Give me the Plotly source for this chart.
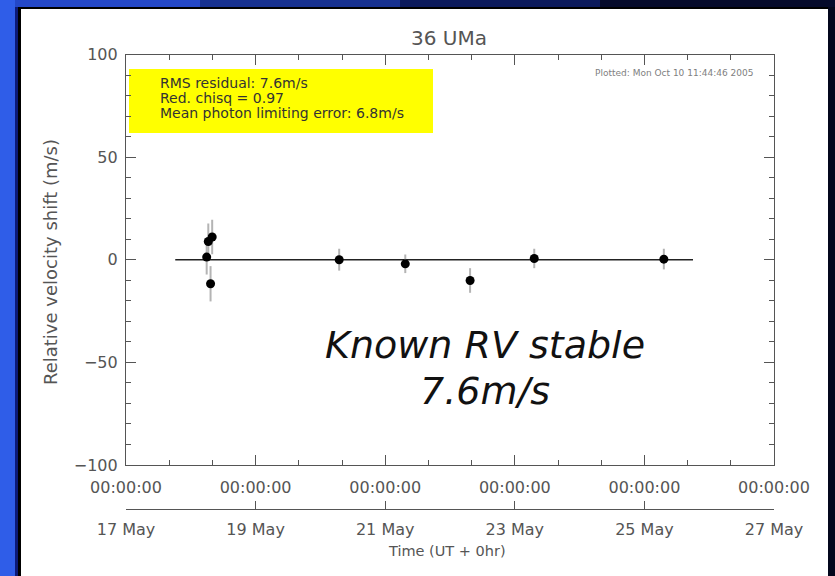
import pandas as pd
import plotly.graph_objects as go

# Observation epochs (fractional day of May 2005, UT)
obs_day = [18.245, 18.27, 18.305, 18.33, 20.29, 21.31, 22.31, 23.30, 25.30]
# Relative radial velocity shift (m/s) and 1-sigma errors
rv = [1.3, 8.9, -11.7, 11.1, 0.0, -2.0, -10.1, 0.6, 0.3]
rv_err = [8.5, 8.8, 8.6, 8.4, 5.3, 4.5, 6.0, 4.7, 5.0]
# Constant-velocity reference model
model_day = [17.76, 25.75]
model_rv = [0.0, 0.0]

title_text = "36 UMa"
y_title = "Relative velocity shift (m/s)"
x_title = "Time (UT + 0hr)"
stats_lines = ["RMS residual: 7.6m/s", "Red. chisq = 0.97", "Mean photon limiting error: 6.8m/s"]
stamp_text = "Plotted: Mon Oct 10 11:44:46 2005"
note_lines = ["Known RV stable", "7.6m/s"]

x_start, x_end = "2005-05-17", "2005-05-27"
y_min, y_max = -100, 100


def to_time(days):
    base = pd.Timestamp("2005-05-01")
    return [base + pd.to_timedelta(d - 1, unit="D") for d in days]


W, H = 835, 576
px = lambda v: v / W
py = lambda v: 1 - v / H

AX = "#555555"
FONT = "DejaVu Sans"

fig = go.Figure()

fig.add_trace(go.Scatter(
    x=to_time(model_day), y=model_rv, mode="lines",
    line=dict(color="#222222", width=1.6), hoverinfo="skip", showlegend=False,
))
fig.add_trace(go.Scatter(
    x=to_time(obs_day), y=rv, mode="markers",
    marker=dict(color="black", size=9),
    error_y=dict(type="data", array=rv_err, color="#b4b4b4", thickness=2, width=0),
    showlegend=False,
))
# second axis row carrying the calendar dates
fig.add_trace(go.Scatter(
    x=to_time([17, 27]), y=[None, None], xaxis="x2", yaxis="y",
    mode="markers", showlegend=False, hoverinfo="skip",
))


def band(x0, x1, y0, y1, color):
    return dict(type="rect", xref="paper", yref="paper",
                x0=px(x0), x1=px(x1), y0=py(y1), y1=py(y0),
                fillcolor=color, line=dict(width=0), layer="below")


# slide background: blue frame around a white panel
shapes = [
    band(0, W, 0, H, "black"),
    band(21, 828, 9, H + 5, "white"),
    # left edge
    band(0, 15, 0, H, "#2f5de8"),
    band(15, 18, 0, H, "#0c1a78"),
    # top edge, fading from blue to black
    band(15, 200, 0, 7, "#2448c8"),
    band(200, 400, 0, 7, "#16308f"),
    band(400, 600, 0, 7, "#0c1a5c"),
    band(600, 835, 0, 7, "#050a2a"),
    # right edge
    band(828, W, 7, H, "#03061c"),
    # statistics box
    band(129, 433, 69, 133, "#ffff00"),
]

annotations = [
    dict(text=stamp_text, xref="paper", yref="paper", x=px(755), y=py(73),
         xanchor="right", yanchor="middle", showarrow=False,
         font=dict(family=FONT, size=9, color="#808080")),
    dict(text=title_text, xref="paper", yref="paper", x=px(449), y=py(38),
         xanchor="center", yanchor="middle", showarrow=False,
         font=dict(family=FONT, size=20, color=AX)),
    dict(text=y_title, xref="paper", yref="paper", x=px(50), y=py(262),
         xanchor="center", yanchor="middle", textangle=-90, showarrow=False,
         font=dict(family=FONT, size=18, color=AX)),
    dict(text=x_title, xref="paper", yref="paper", x=px(447), y=py(551),
         xanchor="center", yanchor="middle", showarrow=False,
         font=dict(family=FONT, size=14.5, color=AX)),
]
for i, line in enumerate(stats_lines):
    annotations.append(dict(
        text=line, xref="paper", yref="paper", x=px(158), y=py(83 + 15 * i),
        xanchor="left", yanchor="middle", showarrow=False,
        font=dict(family=FONT, size=14, color="#333333")))
for i, line in enumerate(note_lines):
    annotations.append(dict(
        text=line, xref="paper", yref="paper", x=px(485), y=py(345 + 46 * i),
        xanchor="center", yanchor="middle", showarrow=False,
        font=dict(family=FONT, size=38, color="#111111", style="italic")))

fig.update_layout(
    width=W, height=H,
    margin=dict(l=0, r=0, t=0, b=0, autoexpand=False),
    paper_bgcolor="white", plot_bgcolor="rgba(0,0,0,0)",
    shapes=shapes, annotations=annotations,
    xaxis=dict(
        type="date", range=[x_start, x_end], domain=[px(126), px(774)],
        anchor="y", tick0=x_start, dtick=2 * 86400000, tickformat="%H:%M:%S",
        ticks="inside", ticklen=10, tickcolor=AX, tickwidth=1,
        showline=True, linecolor=AX, linewidth=1.2, mirror="ticks",
        showgrid=False, zeroline=False, automargin=False,
        minor=dict(tick0=x_start, dtick=86400000 * 2 / 3, ticks="inside", ticklen=5,
                   tickcolor=AX, showgrid=False),
        tickfont=dict(family=FONT, size=16, color=AX), ticklabelstandoff=8,
    ),
    xaxis2=dict(
        type="date", range=[x_start, x_end], domain=[px(126), px(774)],
        overlaying="x", anchor="free", position=py(509), side="bottom",
        tick0=x_start, dtick=2 * 86400000, tickformat="%d %b",
        ticks="inside", ticklen=8, tickcolor=AX,
        showline=True, linecolor=AX, linewidth=1.2, showgrid=False, zeroline=False,
        automargin=False,
        tickfont=dict(family=FONT, size=16, color=AX), ticklabelstandoff=6,
    ),
    yaxis=dict(
        range=[y_min, y_max], domain=[py(465), py(54.5)],
        tick0=0, dtick=50, ticks="inside", ticklen=10, tickcolor=AX,
        showline=True, linecolor=AX, linewidth=1.2, mirror="ticks",
        showgrid=False, zeroline=False, automargin=False,
        minor=dict(dtick=10, ticks="inside", ticklen=5, tickcolor=AX, showgrid=False),
        tickfont=dict(family=FONT, size=16, color=AX), ticklabelstandoff=4,
    ),
)

fig.write_html("out.html")
